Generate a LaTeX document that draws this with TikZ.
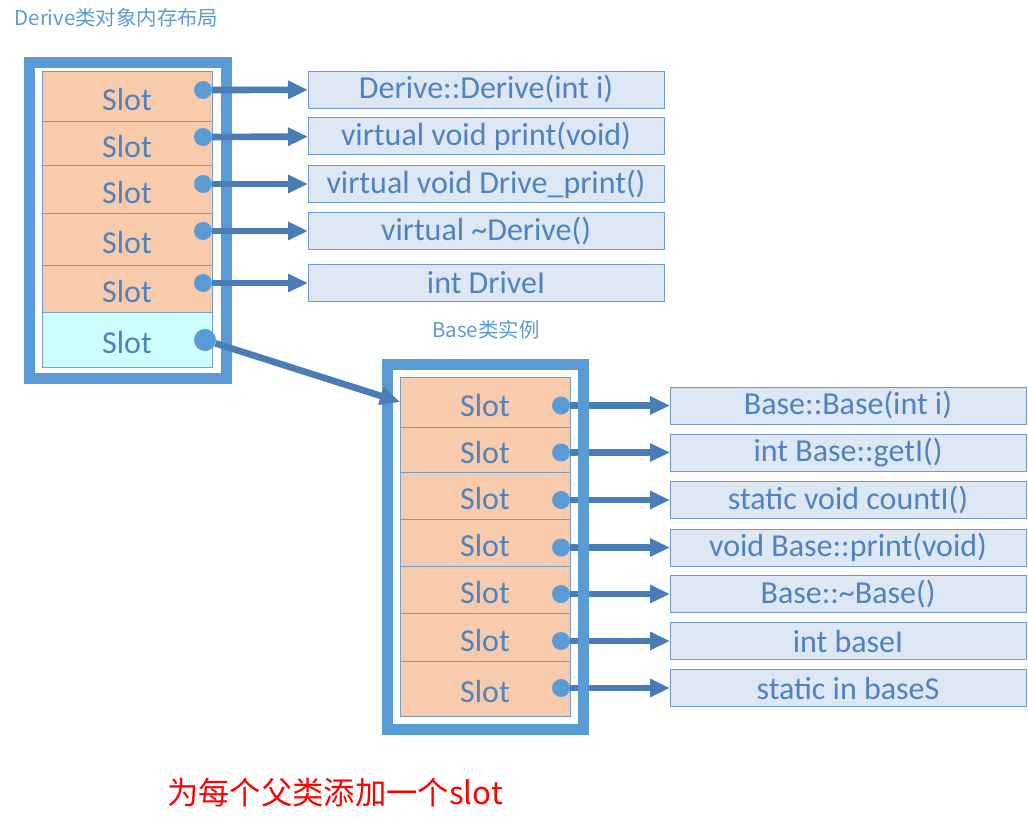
\documentclass[tikz,border=0pt]{standalone}
\usepackage{fontspec}
\setmainfont{Carlito}
\newfontfamily\cjk{Noto Sans CJK SC}
\usepackage{tikz}
\usetikzlibrary{arrows.meta}

\definecolor{framecol}{HTML}{5B9BD5}
\definecolor{slotfill}{HTML}{F8CBAD}
\definecolor{slotcyan}{HTML}{CCFFFF}
\definecolor{slotline}{HTML}{7A9CCB}
\definecolor{textcol}{HTML}{4F83C0}
\definecolor{boxfill}{HTML}{DEE8F4}
\definecolor{boxline}{HTML}{6F9BD1}
\definecolor{ptrcol}{HTML}{4A7DB5}

\tikzset{
	slot/.style={draw=slotline, line width=0.75pt, fill=slotfill, text=textcol, inner sep=0pt, outer sep=0pt,
		minimum width=170*0.75pt, text height=21pt, text depth=0pt, font=\fontsize{24}{28}\selectfont},
	func/.style={draw=boxline, line width=0.75pt, fill=boxfill, text=textcol, inner sep=0pt, outer sep=0pt,
		minimum width=356*0.75pt, minimum height=37*0.75pt, font=\fontsize{24}{28}\selectfont},
	dot/.style={circle, fill=framecol, inner sep=0pt, outer sep=0pt, minimum size=18*0.75pt},
	frame/.style={draw=framecol, line width=11*0.75pt},
	ptr/.style={draw=ptrcol, line width=5pt, -{Triangle[length=15pt,width=13pt]}},
	caption/.style={text=framecol, font=\cjk\fontsize{15.3}{18}\selectfont}
}

\begin{document}
\begin{tikzpicture}[x=0.75pt, y=-0.75pt]
			%%%%% START %%%%%
			\useasboundingbox (0, 0) rectangle (1028, 828);
			
			\node[caption, anchor=west] (dtitle) at (10, 18) {Derive类对象内存布局};
			
			\draw[frame] (29.5, 62.5) rectangle (226.5, 378);
			
			\node[slot, minimum height=50*0.75pt] (s1) at (127, 96) {Slot};
			\node[slot, minimum height=44*0.75pt] (s2) at (127, 143) {Slot};
			\node[slot, minimum height=48*0.75pt] (s3) at (127, 189) {Slot};
			\node[slot, minimum height=52*0.75pt] (s4) at (127, 239) {Slot};
			\node[slot, minimum height=47*0.75pt] (s5) at (127, 288.5) {Slot};
			\node[slot, fill=slotcyan, minimum height=55*0.75pt] (s6) at (127, 339.5) {Slot};
			
			\node[dot] (d1) at (203, 90) {};
			\node[dot] (d2) at (203, 137) {};
			\node[dot] (d3) at (203, 184) {};
			\node[dot] (d4) at (203, 231) {};
			\node[dot] (d5) at (203, 283) {};
			\node[dot, minimum size=22*0.75pt] (d6) at (205, 340) {};
			
			\node[func] (f1) at (486, 89.5) {Derive::Derive(int i)};
			\node[func] (f2) at (486, 136) {virtual void print(void)};
			\node[func] (f3) at (486, 184) {virtual void Drive\_print()};
			\node[func] (f4) at (486, 231) {virtual \textasciitilde Derive()};
			\node[func] (f5) at (486, 283) {int DriveI};
			
			\draw[ptr] (d1) -- (f1);
			\draw[ptr] (d2) -- (f2);
			\draw[ptr] (d3) -- (f3);
			\draw[ptr] (d4) -- (f4);
			\draw[ptr] (d5) -- (f5);
			
			%%%%% BASE %%%%%
			\node[caption] (btitle) at (486, 330) {Base类实例};
			
			\node[slot, minimum height=50*0.75pt] (b1) at (485, 402) {Slot};
			\node[slot, minimum height=45*0.75pt] (b2) at (485, 449.5) {Slot};
			\node[slot, minimum height=47*0.75pt] (b3) at (485, 495.5) {Slot};
			\node[slot, minimum height=47*0.75pt] (b4) at (485, 542.5) {Slot};
			\node[slot, minimum height=47*0.75pt] (b5) at (485, 589.5) {Slot};
			\node[slot, minimum height=48*0.75pt] (b6) at (485, 637) {Slot};
			\node[slot, minimum height=55*0.75pt] (b7) at (485, 688.5) {Slot};
			
			\node[dot] (e1) at (561, 405.5) {};
			\node[dot] (e2) at (561, 452.5) {};
			\node[dot] (e3) at (561, 500) {};
			\node[dot] (e4) at (561, 547.5) {};
			\node[dot] (e5) at (561, 594) {};
			\node[dot] (e6) at (561, 641) {};
			\node[dot] (e7) at (561, 688) {};
			
			\node[func] (g1) at (848, 405.5) {Base::Base(int i)};
			\node[func] (g2) at (848, 452.5) {int Base::getI()};
			\node[func] (g3) at (848, 500) {static void countI()};
			\node[func] (g4) at (848, 547.5) {void Base::print(void)};
			\node[func] (g5) at (848, 594) {Base::\textasciitilde Base()};
			\node[func] (g6) at (848, 641) {int baseI};
			\node[func] (g7) at (848, 688) {static in baseS};
			
			\draw[ptr] (e1) -- (g1);
			\draw[ptr] (e2) -- (g2);
			\draw[ptr] (e3) -- (g3);
			\draw[ptr] (e4) -- (g4);
			\draw[ptr] (e5) -- (g5);
			\draw[ptr] (e6) -- (g6);
			\draw[ptr] (e7) -- (g7);
			
			\draw[frame] (387.5, 364) rectangle (583.5, 729);
			
			\draw[ptr] (d6) -- (b1.west);
			
			\node[text=red, font=\cjk\fontsize{23.5}{28}\selectfont] (note) at (335, 793) {为每个父类添加一个slot};
			
			%%%%% END %%%%%
\end{tikzpicture}
\end{document}
